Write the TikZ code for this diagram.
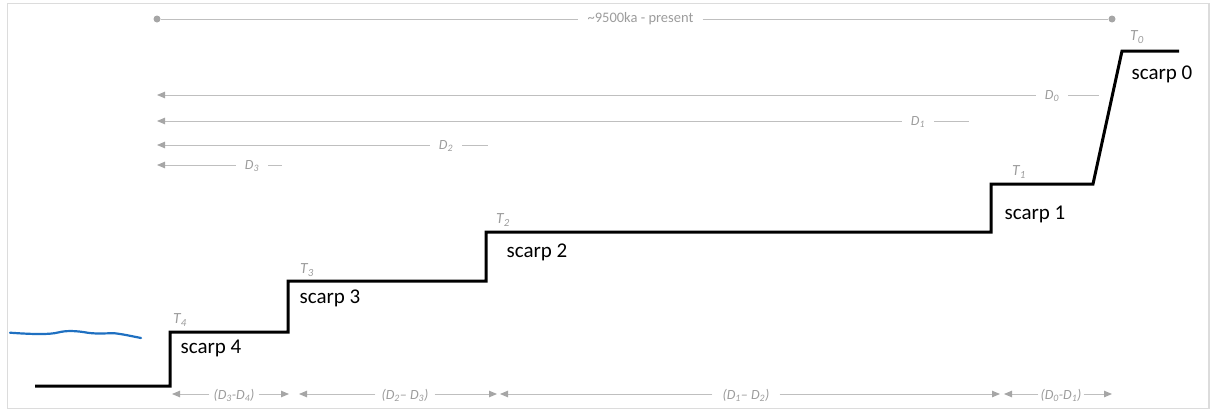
\documentclass[tikz,border=0pt]{standalone}
\usepackage{fontspec}
\setmainfont{Carlito}
\usetikzlibrary{arrows.meta}
\definecolor{guide}{HTML}{BFBFBF}
\definecolor{tipgray}{HTML}{A6A6A6}
\definecolor{lblgray}{HTML}{9C9C9C}
\definecolor{sea}{HTML}{1F70C1}
\definecolor{framegray}{HTML}{DCDCDC}
\begin{document}
\begin{tikzpicture}[x=1pt,y=-1pt,
  guide/.style={draw=guide, line width=0.9pt},
  span/.style={guide, -{Triangle[length=8pt,width=6.5pt,color=tipgray]}},
  dimlbl/.style={text=lblgray, font=\fontsize{14}{16}\selectfont\itshape, inner xsep=7pt, inner ysep=1pt},
  toplbl/.style={text=lblgray, font=\fontsize{14.5}{16}\selectfont, inner xsep=9pt, inner ysep=1pt},
  terr/.style={text=lblgray, font=\fontsize{15.5}{17}\selectfont\itshape, inner sep=0pt},
  scarplbl/.style={text=black, font=\fontsize{21}{24}\selectfont, inner sep=0pt},
  profile/.style={draw=black, line width=3pt, line join=miter},
  dot/.style={circle, fill=tipgray, minimum size=7pt, inner sep=0pt}]
\useasboundingbox (0,0) rectangle (1213,410);
% frame
\draw[framegray, line width=1.5pt] (7.5,3.5) rectangle (1209,408.5);

% overall time span
\node[dot] (tstart) at (157,19) {};
\node[dot] (tend) at (1112,19) {};
\node[toplbl] (tspan) at (640.5,19) {\textasciitilde 9500ka - present};
\draw[guide] (tstart) -- (tspan.west);
\draw[guide] (tspan.east) -- (tend);

% distances measured from the origin
\coordinate (o0) at (157,95);
\coordinate (o1) at (157,121);
\coordinate (o2) at (157,145);
\coordinate (o3) at (157,165);
\coordinate (e0) at (1099,95);
\coordinate (e1) at (969,121);
\coordinate (e2) at (488,145);
\coordinate (e3) at (282,165);
\node[dimlbl, inner xsep=9pt] (d0) at (1052,96) {D\textsubscript{0}};
\node[dimlbl, inner xsep=9pt] (d1) at (918,122) {D\textsubscript{1}};
\node[dimlbl, inner xsep=9pt] (d2) at (446,146) {D\textsubscript{2}};
\node[dimlbl, inner xsep=9pt] (d3) at (252,166) {D\textsubscript{3}};
\draw[span] (d0.west |- o0) -- (o0);
\draw[guide] (d0.east |- e0) -- (e0);
\draw[span] (d1.west |- o1) -- (o1);
\draw[guide] (d1.east |- e1) -- (e1);
\draw[span] (d2.west |- o2) -- (o2);
\draw[guide] (d2.east |- e2) -- (e2);
\draw[span] (d3.west |- o3) -- (o3);
\draw[guide] (d3.east |- e3) -- (e3);

% sea level
\draw[sea, line width=2.2pt, line cap=round]
  (10,332.7) .. controls (35,334.5) and (50,334.5) .. (58,332.5)
  .. controls (66,330.5) and (75,330.5) .. (88,332.8)
  .. controls (98,334.2) and (108,333) .. (115,333.3)
  .. controls (125,334.5) and (133,336.5) .. (141,338);

% stepped terrace profile
\coordinate (p0) at (35,386);
\coordinate (s4b) at (170,386);
\coordinate (s4t) at (170,332);
\coordinate (s3b) at (288,332);
\coordinate (s3t) at (288,281);
\coordinate (s2b) at (486,281);
\coordinate (s2t) at (486,232);
\coordinate (s1b) at (991,232);
\coordinate (s1t) at (991,184);
\coordinate (s0b) at (1093,184);
\coordinate (s0t) at (1122,51);
\coordinate (pend) at (1179,51);
\draw[profile] (p0) -- (s4b) -- (s4t) -- (s3b) -- (s3t) -- (s2b) -- (s2t)
  -- (s1b) -- (s1t) -- (s0b) -- (s0t) -- (pend);

% terrace and scarp labels
\node[terr] (t4) at (180,320) {T\textsubscript{4}};
\node[terr] (t3) at (307,270) {T\textsubscript{3}};
\node[terr] (t2) at (503,220) {T\textsubscript{2}};
\node[terr] (t1) at (1019,172) {T\textsubscript{1}};
\node[terr] (t0) at (1137,37) {T\textsubscript{0}};
\node[scarplbl] (sc4) at (211,348) {scarp 4};
\node[scarplbl] (sc3) at (330,298) {scarp 3};
\node[scarplbl] (sc2) at (537,252) {scarp 2};
\node[scarplbl] (sc1) at (1035,214) {scarp 1};
\node[scarplbl] (sc0) at (1162,74) {scarp 0};

% terrace widths
\coordinate (a1) at (172,394);
\coordinate (a2) at (289,394);
\coordinate (b1) at (299,394);
\coordinate (b2) at (497,394);
\coordinate (c1) at (500,394);
\coordinate (c2) at (1000,394);
\coordinate (f1) at (1004,394);
\coordinate (f2) at (1112,394);
\node[dimlbl, inner xsep=4pt] (w34) at (234,395) {(D\textsubscript{3}-D\textsubscript{4})};
\node[dimlbl, inner xsep=6pt] (w23) at (405,395) {(D\textsubscript{2}– D\textsubscript{3})};
\node[dimlbl, inner xsep=10pt] (w12) at (746,395) {(D\textsubscript{1}– D\textsubscript{2})};
\node[dimlbl, inner xsep=2pt] (w01) at (1061,395) {(D\textsubscript{0}-D\textsubscript{1})};
\draw[span] (w34.west |- a1) -- (a1);
\draw[span] (w34.east |- a2) -- (a2);
\draw[span] (w23.west |- b1) -- (b1);
\draw[span] (w23.east |- b2) -- (b2);
\draw[span] (w12.west |- c1) -- (c1);
\draw[span] (w12.east |- c2) -- (c2);
\draw[span] (w01.west |- f1) -- (f1);
\draw[span] (w01.east |- f2) -- (f2);
\end{tikzpicture}
\end{document}
